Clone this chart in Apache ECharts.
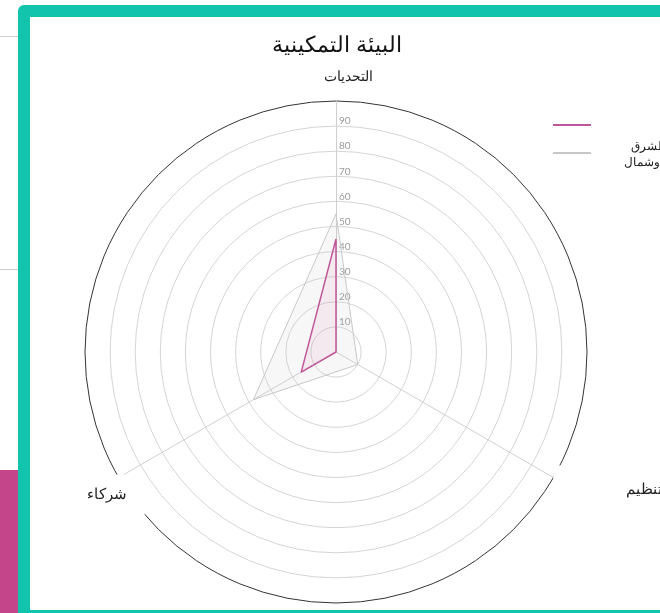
<!DOCTYPE html>
<html>
<head>
<meta charset="utf-8">
<script src="https://cdn.jsdelivr.net/npm/echarts@6/dist/echarts.min.js"></script>
<style>
  html, body { margin: 0; padding: 0; overflow: hidden; background: #fff; }
  #page { position: relative; width: 660px; height: 613px; overflow: hidden; }
  .rule { position: absolute; left: 0; width: 18px; height: 1px; background: #cfcfcf; }
  #tab { position: absolute; left: 0; top: 470px; width: 18px; height: 150px; background: #c4458a; }
  #frame { position: absolute; left: 18px; top: 5px; width: 700px; height: 617px; box-sizing: border-box;
           border: 12px solid #13c4ac; border-radius: 6px; }
  #chart { position: absolute; left: 0; top: 0; width: 660px; height: 613px; }
</style>
</head>
<body>
<div id="page">
  <div class="rule" style="top:36px"></div>
  <div class="rule" style="top:269px"></div>
  <div id="tab"></div>
  <div id="frame"></div>
  <div id="chart"></div>
</div>
<script>
// les données
const chartTitle = 'البيئة التمكينية';
const indicators = ['التحديات', 'شركاء', 'التنظيم'];
const maxValue = 100;
const seriesNames = ['المغرب', 'منطقة الشرق\nالأوسط وشمال\nأفريقيا'];
const countryValues = [45, 16, 0];
const regionValues = [55, 38, 10];

const cx = 336, cy = 352, R = 251;
const pink = '#c0579a';
const grey = '#c8c8c8';

// boîtes blanches derrière les noms des axes
const nameBoxes = [
  { dx: 12, dy: -24, align: 'center', padding: [2, 4], size: 14 },
  { dx: -12, dy: 17.5, align: 'center', padding: [15, 18, 11, 18], size: 15 },
  { dx: 0, dy: 12.5, align: 'left', padding: [18, 10, 16, 73], size: 15 }
];

const chart = echarts.init(document.getElementById('chart'));

const ringColors = [];
for (let i = 0; i < 10; i++) ringColors.push('#d4d4d4');
ringColors.push('#333');

const option = {
  animation: false,
  title: {
    text: chartTitle,
    left: cx - 4,
    top: 30,
    textAlign: 'center',
    textStyle: { fontSize: 22, fontWeight: 'normal', color: '#111' }
  },
  legend: {
    data: seriesNames,
    orient: 'vertical',
    left: 548,
    top: 119,
    icon: 'rect',
    itemWidth: 38,
    itemHeight: 2,
    itemGap: 0,
    formatter: (name) => (name === seriesNames[0] ? '{p|' : '{t|') + name + '}',
    textStyle: {
      padding: [20, 0, 0, 0],
      rich: {
        t: { width: 104, align: 'right', fontSize: 12, lineHeight: 16, color: '#222' },
        p: { width: 140, align: 'right', fontSize: 12, lineHeight: 16, color: '#222' }
      }
    }
  },
  radar: {
    center: [cx, cy],
    radius: R,
    shape: 'circle',
    startAngle: 90,
    splitNumber: 10,
    indicator: indicators.map((name, i) => ({
      name: name, min: 0, max: maxValue, axisLabel: { show: i === 0 }
    })),
    axisName: { show: false },
    axisLine: { lineStyle: { color: '#cfcfcf', width: 1 } },
    splitLine: { lineStyle: { color: ringColors, width: 1 } },
    splitArea: { show: false },
    axisLabel: {
      show: false,
      showMinLabel: false,
      showMaxLabel: false,
      color: '#9a9a9a',
      fontSize: 10,
      fontFamily: 'Lato',
      margin: -3,
      align: 'left',
      verticalAlign: 'bottom'
    }
  },
  graphic: indicators.map((name, i) => {
    const a = Math.PI / 2 + i * 2 * Math.PI / indicators.length;
    const b = nameBoxes[i];
    return {
      type: 'text',
      x: cx + R * Math.cos(a) + b.dx,
      y: cy - R * Math.sin(a) + b.dy,
      z: 100,
      style: {
        text: name, fontSize: b.size, fill: '#222',
        align: b.align, verticalAlign: 'middle',
        backgroundColor: '#fff', padding: b.padding
      }
    };
  }),
  series: [
    {
      type: 'radar',
      symbol: 'none',
      data: [
        {
          name: seriesNames[1],
          value: regionValues,
          itemStyle: { color: grey },
          lineStyle: { color: grey, width: 1 },
          areaStyle: { color: 'rgba(200,200,200,0.2)' }
        },
        {
          name: seriesNames[0],
          value: countryValues,
          itemStyle: { color: pink },
          lineStyle: { color: pink, width: 1.5 },
          areaStyle: { color: 'rgba(200,90,155,0.13)' }
        }
      ]
    }
  ]
};

chart.setOption(option);
</script>
</body>
</html>
